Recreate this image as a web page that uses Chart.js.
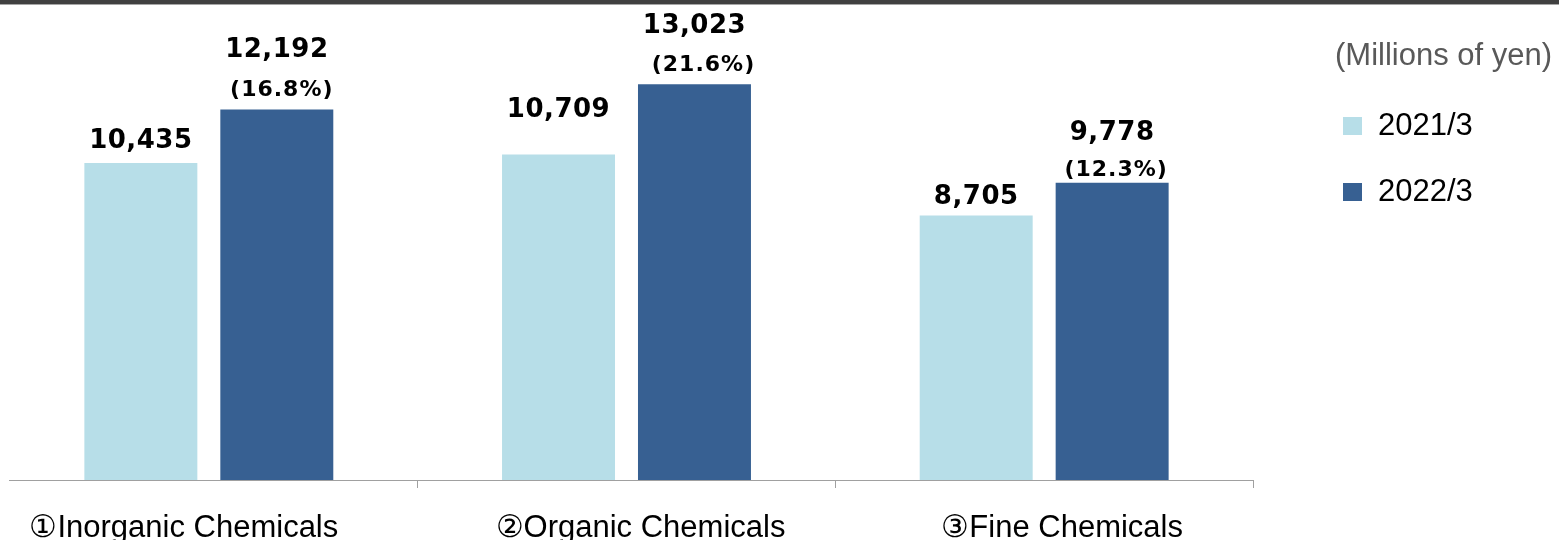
<!DOCTYPE html>
<html>
<head>
<meta charset="utf-8">
<script src="https://cdn.jsdelivr.net/npm/chart.js@4.4.1/dist/chart.umd.min.js"></script>
<style>
  html, body { margin: 0; padding: 0; background: #fff; }
  #wrap { position: relative; width: 1559px; height: 540px; overflow: hidden; }
  #topRule { position: absolute; left: 0; top: 0; width: 100%; height: 4px; background: #404040; border-bottom: 1px solid #a6a6a6; z-index: 2; }
</style>
</head>
<body>
<div id="wrap">
  <div id="topRule"></div>
  <canvas id="sales"></canvas>
</div>
<script>
const categories = ['①Inorganic Chemicals', '②Organic Chemicals', '③Fine Chemicals'];
const seriesLabels = ['2021/3', '2022/3'];
const sales2021 = [10435, 10709, 8705];
const sales2022 = [12192, 13023, 9778];
const unitLabel = '(Millions of yen)';

const colors = ['#B7DEE8', '#376092'];

// hand-placed label offsets (px above bar top / sideways)
const valueLift = [[22, 44, 18], [59, 58, 50]];
const growthLift = [19, 19, 13];
const growthShift = [5, 9, 4];
const categoryShift = [-25, 14, 18];

const growth = sales2022.map((v, i) => ((v / sales2021[i] - 1) * 100).toFixed(1));

const labelPlugin = {
    id: 'labels',
    afterDraw(chart) {
        const ctx = chart.ctx;
        const area = chart.chartArea;
        const xScale = chart.scales.x;
        ctx.save();

        // axis line
        ctx.strokeStyle = '#a0a0a0';
        ctx.lineWidth = 1;
        ctx.beginPath();
        ctx.moveTo(area.left + 9, Math.round(area.bottom) + 0.5);
        ctx.lineTo(area.right, Math.round(area.bottom) + 0.5);
        ctx.stroke();

        // value labels
        ctx.textAlign = 'center';
        ctx.textBaseline = 'middle';
        ctx.fillStyle = '#000';
        chart.data.datasets.forEach((ds, i) => {
            chart.getDatasetMeta(i).data.forEach((bar, j) => {
                ctx.font = 'bold 26px "DejaVu Sans"';
                ctx.letterSpacing = '0.5px';
                ctx.fillText(ds.data[j].toLocaleString('en-US'), bar.x, bar.y - valueLift[i][j]);
                if (i === 1) {
                    ctx.font = 'bold 22px "DejaVu Sans"';
                    ctx.letterSpacing = '1px';
                    ctx.fillText('(' + growth[j] + '%)', bar.x + growthShift[j], bar.y - growthLift[j]);
                }
            });
        });
        ctx.letterSpacing = '0px';

        // category names
        ctx.font = '31px "Liberation Sans", Arial, sans-serif';
        ctx.textBaseline = 'alphabetic';
        categories.forEach((c, j) => {
            ctx.fillText(c, xScale.getPixelForValue(j) + categoryShift[j], 537);
        });

        // unit and legend
        ctx.textAlign = 'left';
        ctx.fillStyle = '#595959';
        ctx.font = '31px "Liberation Sans", Arial, sans-serif';
        ctx.fillText(unitLabel, 1335, 65);
        chart.data.datasets.forEach((ds, i) => {
            const y = 117 + i * 66;
            ctx.fillStyle = ds.backgroundColor;
            ctx.fillRect(1343, y, 19, 18);
            ctx.fillStyle = '#000';
            ctx.fillText(ds.label, 1378, y + 18);
        });
        ctx.restore();
    }
};

new Chart(document.getElementById('sales'), {
    type: 'bar',
    data: {
        labels: categories,
        datasets: [
            { label: seriesLabels[0], data: sales2021, backgroundColor: colors[0] },
            { label: seriesLabels[1], data: sales2022, backgroundColor: colors[1] },
        ],
    },
    options: {
        responsive: true,
        maintainAspectRatio: false,
        animation: false,
        categoryPercentage: 0.651,
        barPercentage: 0.831,
        layout: { padding: { top: 9, left: 0, right: 306, bottom: 0 } },
        plugins: {
            legend: { display: false },
            tooltip: { enabled: false },
        },
        scales: {
            x: {
                grid: {
                    offset: true,
                    drawOnChartArea: false,
                    tickLength: 8,
                    color: c => (c.index === 0 ? 'rgba(0,0,0,0)' : '#a0a0a0'),
                },
                border: { display: false },
                ticks: { display: false },
                afterFit: scale => { scale.height = 60; },
            },
            y: {
                display: false,
                min: 0,
                max: 15500,
            },
        },
    },
    plugins: [labelPlugin],
});
</script>
</body>
</html>
